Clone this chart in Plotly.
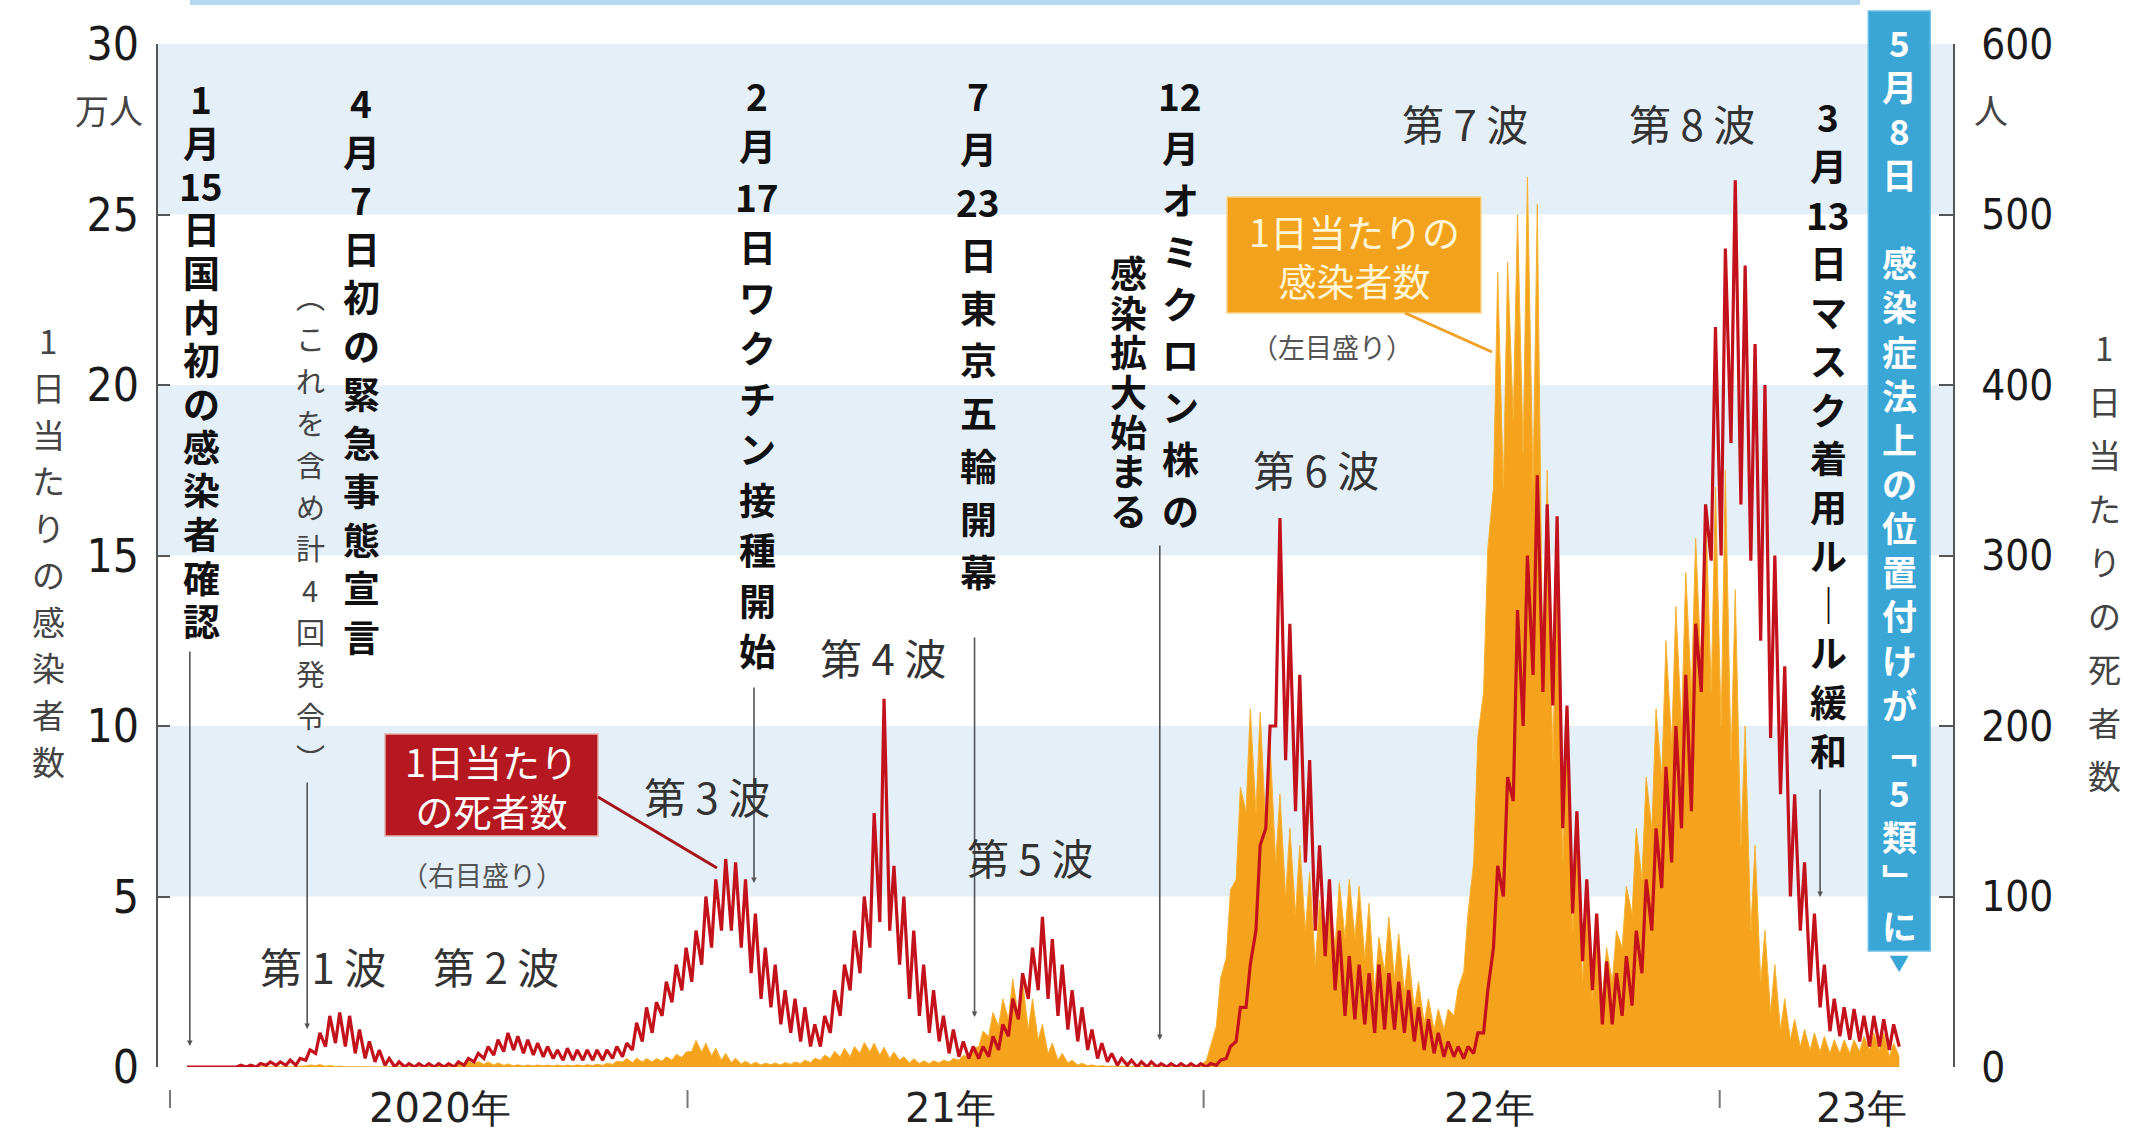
import pandas as pd
import plotly.graph_objects as go

# ------------------------------------------------------------------ data
WEEK_START = "2020-01-13"   # Monday of first plotted week
DATA_END = "2023-05-08"

# daily new infections (万人): weekly high day / weekly low day
cases_hi = [
    # 2020
    0.001, 0.001, 0.001,
    0.002, 0.002, 0.003, 0.003,
    0.006, 0.006, 0.005, 0.01, 0.03,
    0.06, 0.072, 0.045, 0.03,
    0.01, 0.008, 0.004, 0.004,
    0.005, 0.005, 0.007, 0.01, 0.013,
    0.04, 0.066, 0.1, 0.16,
    0.16, 0.15, 0.12, 0.09, 0.065,
    0.06, 0.06, 0.055, 0.06,
    0.06, 0.063, 0.065, 0.08,
    0.11, 0.17, 0.25, 0.26, 0.25,
    0.25, 0.3, 0.37, 0.44,
    # 2021
    0.78, 0.7, 0.55, 0.4,
    0.26, 0.17, 0.14, 0.11,
    0.12, 0.13, 0.15, 0.2, 0.26,
    0.35, 0.46, 0.55, 0.6,
    0.72, 0.7, 0.58, 0.44, 0.3,
    0.24, 0.18, 0.18, 0.2,
    0.25, 0.34, 0.55, 1.05,
    1.6, 2.0, 2.58, 2.5, 2.0,
    1.25, 0.7, 0.4, 0.2,
    0.11, 0.06, 0.04, 0.03,
    0.03, 0.02, 0.02, 0.014, 0.015,
    0.016, 0.02, 0.025, 0.05,
    # 2022
    0.6, 2.6, 5.2, 8.2, 10.5,
    10.4, 9.5, 8.0, 7.0,
    6.5, 5.7, 4.9, 5.0,
    5.4, 5.5, 5.3, 4.8,
    3.8, 4.4, 3.9, 3.3, 2.5,
    2.0, 1.7, 1.7, 2.3,
    4.5, 9.7, 15.2, 23.3,
    23.6, 25.0, 26.1, 25.3, 17.5,
    15.0, 10.0, 7.5, 5.0,
    3.7, 3.5, 4.0, 5.3, 7.0,
    8.5, 10.5, 12.5, 13.5,
    14.5, 15.5, 16.5, 17.0,
    # 2023
    17.5, 14.0, 10.0, 6.5, 4.0,
    3.0, 2.0, 1.4, 1.1,
    1.0, 0.9, 0.8, 0.8,
    0.8, 0.9, 1.0, 1.0,
    0.7, 0.5,
]
cases_lo = [
    # 2020
    0, 0, 0,
    0, 0, 0.001, 0.001,
    0.002, 0.003, 0.002, 0.005, 0.01,
    0.03, 0.04, 0.02, 0.015,
    0.004, 0.002, 0.001, 0.002,
    0.002, 0.002, 0.003, 0.004, 0.008,
    0.02, 0.03, 0.05, 0.06,
    0.09, 0.08, 0.06, 0.05, 0.035,
    0.03, 0.03, 0.035, 0.03,
    0.03, 0.03, 0.035, 0.045,
    0.05, 0.08, 0.15, 0.13, 0.15,
    0.15, 0.17, 0.2, 0.28,
    # 2021
    0.46, 0.44, 0.33, 0.2,
    0.13, 0.09, 0.07, 0.06,
    0.07, 0.06, 0.08, 0.1, 0.13,
    0.2, 0.25, 0.3, 0.3,
    0.4, 0.45, 0.35, 0.25, 0.2,
    0.12, 0.1, 0.1, 0.12,
    0.15, 0.2, 0.3, 0.6,
    0.9, 1.2, 1.4, 1.5, 1.1,
    0.8, 0.4, 0.2, 0.12,
    0.06, 0.04, 0.02, 0.02,
    0.01, 0.008, 0.007, 0.006, 0.007,
    0.008, 0.01, 0.015, 0.02,
    # 2022
    0.2, 1.2, 3.2, 5.5, 7.5,
    7.5, 7.0, 6.0, 5.0,
    4.5, 4.0, 3.0, 3.5,
    3.5, 3.8, 3.8, 3.2,
    2.2, 2.8, 2.6, 2.2, 1.7,
    1.3, 1.1, 1.1, 1.5,
    2.8, 6.0, 11.0, 17.0,
    17.0, 19.0, 18.0, 17.0, 11.0,
    9.0, 6.0, 4.0, 2.5,
    2.0, 2.0, 2.5, 3.5, 4.5,
    5.5, 7.0, 8.5, 9.5,
    10.0, 11.0, 11.5, 11.0,
    # 2023
    10.0, 9.0, 6.5, 4.0, 2.5,
    1.6, 1.1, 0.8, 0.6,
    0.5, 0.45, 0.4, 0.4,
    0.4, 0.45, 0.5, 0.5,
    0.3, 0.3,
]
# daily deaths (人): weekly high day / weekly low day
deaths_hi = [
    # 2020
    0, 0, 0,
    0, 0, 1, 1,
    2, 3, 3, 4, 5,
    10, 20, 30, 32,
    30, 22, 15, 10,
    5, 3, 2, 2, 2,
    2, 2, 3, 5,
    8, 12, 16, 20, 18,
    16, 14, 12, 10,
    11, 10, 10, 10,
    10, 12, 14, 26, 35,
    38, 50, 60, 70,
    # 2021
    80, 100, 110, 122,
    120, 110, 90, 70,
    60, 45, 40, 35, 25,
    30, 45, 60, 80,
    100, 149, 216, 118, 100,
    80, 60, 45, 30,
    22, 15, 12, 12,
    18, 25, 40, 55, 70,
    88, 75, 60, 45,
    35, 22, 14, 8,
    5, 4, 3, 3, 2,
    2, 2, 2, 2,
    # 2022
    2, 4, 12, 35, 60,
    130, 200, 322, 260,
    230, 180, 130, 110,
    80, 65, 60, 55,
    60, 55, 50, 45, 35,
    28, 20, 15, 12,
    12, 20, 45, 118,
    170, 268, 300, 347, 330,
    323, 212, 150, 110,
    90, 62, 55, 65, 80,
    110, 140, 176, 200,
    230, 260, 330, 434,
    # 2023
    480, 520, 470, 424, 400,
    300, 235, 160, 120,
    90, 60, 40, 35,
    34, 30, 30, 28,
    25, 20,
]
deaths_lo = [
    # 2020
    0, 0, 0,
    0, 0, 0, 0,
    0, 1, 1, 1, 1,
    4, 8, 12, 14,
    12, 8, 5, 3,
    1, 0, 0, 0, 0,
    0, 0, 0, 1,
    3, 5, 7, 9, 10,
    8, 7, 6, 5,
    4, 4, 4, 4,
    4, 5, 6, 10, 15,
    20, 30, 38, 45,
    # 2021
    50, 60, 70, 80,
    80, 70, 55, 40,
    35, 25, 20, 15, 12,
    12, 20, 30, 45,
    55, 70, 85, 80, 60,
    40, 30, 20, 15,
    8, 6, 5, 5,
    6, 10, 18, 28, 40,
    45, 40, 30, 22,
    15, 10, 5, 3,
    1, 1, 0, 0, 0,
    0, 0, 0, 0,
    # 2022
    0, 1, 5, 15, 35,
    80, 140, 200, 180,
    150, 120, 80, 65,
    45, 30, 28, 25,
    20, 22, 22, 20, 15,
    10, 8, 6, 6,
    5, 8, 20, 70,
    100, 156, 200, 230, 220,
    212, 140, 90, 62,
    45, 25, 25, 30, 36,
    55, 80, 105, 120,
    140, 150, 220, 297,
    # 2023
    300, 366, 330, 297, 250,
    193, 160, 100, 80,
    50, 35, 21, 18,
    16, 15, 12, 12,
    10, 12,
]

left_ticks = [0, 5, 10, 15, 20, 25, 30]
right_ticks = [0, 100, 200, 300, 400, 500, 600]
year_starts = ["2020-01-01", "2021-01-01", "2022-01-01", "2023-01-01"]
year_label_dates = ["2020-07-10", "2021-07-06", "2022-07-22", "2023-04-11"]
year_labels = ["2020年", "21年", "22年", "23年"]

event_dates = ["2020-01-15", "2020-04-07", "2021-02-17", "2021-07-23", "2021-12-01", "2023-03-13"]
class5_date = "2023-05-08"

wave_labels = ["第 1 波", "第 2 波", "第 3 波", "第 4 波", "第 5 波", "第 6 波", "第 7 波", "第 8 波"]

assert len(cases_hi) == len(cases_lo) == len(deaths_hi) == len(deaths_lo), (
    len(cases_hi), len(cases_lo), len(deaths_hi), len(deaths_lo))

# ------------------------------------------------------------------ series
weeks = pd.date_range(WEEK_START, periods=len(cases_hi), freq="7D")
end = pd.Timestamp(DATA_END)
dates, cases, deaths = [], [], []
for w, clo, chi, dlo, dhi in zip(weeks, cases_lo, cases_hi, deaths_lo, deaths_hi):
    for d, c, dd in ((w, clo, dlo), (w + pd.Timedelta(days=3), chi, dhi)):
        if d <= end:
            dates.append(d)
            cases.append(c)
            deaths.append(dd)

# ------------------------------------------------------------------ geometry helpers
W, H = 2131, 1132
PL, PR, PT, PB = 158, 1953, 44, 1067


def px(x):
    return (x - PL) / (PR - PL)


def py(y):
    return (PB - y) / (PB - PT)


JP = "Noto Sans CJK JP"
NARROW = "Liberation Sans Narrow, Arial Narrow, DejaVu Sans Condensed, Liberation Sans, sans-serif"

fig = go.Figure()
fig.add_trace(go.Scatter(
    x=dates, y=cases, mode="lines", fill="tozeroy",
    line=dict(color="#f7b233", width=1), fillcolor="#f5a31c",
    yaxis="y", hoverinfo="skip"))
fig.add_trace(go.Scatter(
    x=dates, y=deaths, mode="lines",
    line=dict(color="#c3121b", width=3.2), yaxis="y2", hoverinfo="skip"))

shapes = []
# background bands
for lo in (5, 15, 25):
    shapes.append(dict(type="rect", xref="paper", yref="y", x0=0, x1=1, y0=lo, y1=lo + 5,
                       fillcolor="#e5eff8", line=dict(width=0), layer="below"))
# thin frame strip at very top (edge of cut-off title box)
shapes.append(dict(type="rect", xref="paper", yref="paper", x0=px(190), x1=px(1860),
                   y0=py(0), y1=py(5), fillcolor="#b4d9ef", line=dict(width=0), layer="below"))
# year tick marks below the plot
for d in year_starts:
    shapes.append(dict(type="line", xref="x", yref="paper", x0=d, x1=d,
                       y0=py(1090), y1=py(1108), line=dict(color="#777", width=2)))
# red legend box + connector
shapes.append(dict(type="rect", xref="paper", yref="paper", x0=px(385), x1=px(598),
                   y0=py(836), y1=py(734), fillcolor="#b51820", line=dict(color="#e4b0a8", width=1.5)))
shapes.append(dict(type="line", xref="paper", yref="paper", x0=px(598), y0=py(797),
                   x1=px(717), y1=py(868), line=dict(color="#a5141b", width=3)))
# orange legend box + connector
shapes.append(dict(type="rect", xref="paper", yref="paper", x0=px(1227), x1=px(1481),
                   y0=py(313), y1=py(197), fillcolor="#f2a21d", line=dict(color="#f7d48a", width=1.5)))
shapes.append(dict(type="line", xref="paper", yref="paper", x0=px(1405), y0=py(313),
                   x1=px(1492), y1=py(352), line=dict(color="#f0a024", width=3)))
# blue box for 5類
shapes.append(dict(type="rect", xref="x", xsizemode="pixel", xanchor=class5_date, x0=-31, x1=31,
                   yref="paper", y0=py(951), y1=py(11), fillcolor="#3aa6d6",
                   line=dict(color="#6cc0e4", width=1.5)))

ann = []


def text(x, y, t, size, color="#222", family=JP, xanchor="center", xref="paper",
         yanchor="middle", weight="normal"):
    ann.append(dict(x=x, y=y, xref=xref, yref="paper", text=t, showarrow=False,
                    font=dict(size=size, color=color, family=family, weight=weight),
                    xanchor=xanchor, yanchor=yanchor))


def vcol(tokens, x, first, last, size, color="#111", xref="paper", weight="bold"):
    n = len(tokens)
    pitch = (last - first) / (n - 1)
    for i, t in enumerate(tokens):
        if t:
            text(x, py(first + i * pitch), t, size, color, xref=xref, weight=weight)


# vertical event texts
vcol(["1", "月", "15", "日", "国", "内", "初", "の", "感", "染", "者", "確", "認"], px(201), 98, 620, 37)
vcol(["4", "月", "7", "日", "初", "の", "緊", "急", "事", "態", "宣", "言"], px(361), 102, 636, 37)
vcol(["︵", "こ", "れ", "を", "含", "め", "計", "4", "回", "発", "令", "︶"], px(310), 296, 757, 29,
     "#444", weight="normal")
vcol(["2", "月", "17", "日", "ワ", "ク", "チ", "ン", "接", "種", "開", "始"], px(757), 95, 650, 37)
vcol(["7", "月", "23", "日", "東", "京", "五", "輪", "開", "幕"], px(978), 95, 571, 37)
vcol(["12", "月", "オ", "ミ", "ク", "ロ", "ン", "株", "の"], px(1180), 95, 510, 37)
vcol(["感", "染", "拡", "大", "始", "ま", "る"], px(1128), 272, 510, 37)
vcol(["3", "月", "13", "日", "マ", "ス", "ク", "着", "用", "ル", "｜", "ル", "緩", "和"], px(1828), 116, 750, 37)
vcol(["5", "月", "8", "日", "", "感", "染", "症", "法", "上", "の", "位", "置", "付", "け", "が",
      "﹁", "5", "類", "﹂", "に"], class5_date, 41, 924, 35, "#ffffff", xref="x")
# axis titles (vertical)
vcol(["1", "日", "当", "た", "り", "の", "感", "染", "者", "数"], px(48), 340, 761, 33, "#444",
     weight="normal")
vcol(["1", "日", "当", "た", "り", "の", "死", "者", "数"], px(2104), 347, 775, 33, "#444",
     weight="normal")

# event pointer lines with small arrowheads
ev_spans = [(650, 1046), (781, 1029), (686, 883), (636, 1017), (544, 1040), (788, 897)]
for d, (y0, y1) in zip(event_dates, ev_spans):
    ann.append(dict(x=d, y=py(y1), xref="x", yref="paper", ax=0, ay=-(y1 - y0),
                    axref="pixel", ayref="pixel", text="", showarrow=True,
                    arrowhead=2, arrowsize=0.7, arrowwidth=1.6, arrowcolor="#555"))
# blue pointer triangle
text(class5_date, py(962), "▼", 20, "#3aa6d6", xref="x")

# wave labels
wave_pos = [(323, 965), (496, 965), (707, 795), (883, 656), (1030, 856), (1316, 469), (1465, 122), (1692, 122)]
for lab, (x, y) in zip(wave_labels, wave_pos):
    text(px(x), py(y), lab, 42, "#333")

# legend texts
text(px(491), py(785), "1日当たり<br>の死者数", 38, "#ffffff")
text(px(482), py(874), "（右目盛り）", 27, "#555")
text(px(1354), py(255), "1日当たりの<br>感染者数", 38, "#fff6d6")
text(px(1332), py(347), "（左目盛り）", 27, "#555")

# units
text(px(109), py(109), "万人", 34, "#444")
text(px(1991), py(109), "人", 34, "#444")

# year labels
for d, lab in zip(year_label_dates, year_labels):
    text(d, py(1108), lab, 40, "#222", family="DejaVu Sans", xref="x")

fig.update_layout(
    width=W, height=H, autosize=False,
    margin=dict(l=PL, r=W - PR, t=PT, b=H - PB, pad=0),
    paper_bgcolor="white", plot_bgcolor="white",
    showlegend=False,
    xaxis=dict(type="date", range=["2019-12-23 12:00", "2023-06-15"], showticklabels=False,
               ticks="", showgrid=False, zeroline=False, showline=False),
    yaxis=dict(range=[0, 30], tickvals=left_ticks, ticks="inside", ticklen=12, tickwidth=1.5,
               tickcolor="#555", showline=True, linecolor="#555", linewidth=1.5,
               showgrid=False, zeroline=False, ticklabelstandoff=8,
               tickfont=dict(size=46, family=NARROW, color="#1a1a1a")),
    yaxis2=dict(range=[0, 600], tickvals=right_ticks, ticks="inside", ticklen=14, tickwidth=1.5,
                tickcolor="#555", showline=True, linecolor="#555", linewidth=1.5,
                overlaying="y", side="right", showgrid=False, zeroline=False,
                ticklabelstandoff=18,
                tickfont=dict(size=42, family=NARROW, color="#1a1a1a")),
    shapes=shapes, annotations=ann,
)

fig.write_html(
    "out.html",
    config={"displayModeBar": False},
    post_script="document.body.style.margin='0';document.body.style.padding='0';"
                "document.body.style.overflow='hidden';",
)
